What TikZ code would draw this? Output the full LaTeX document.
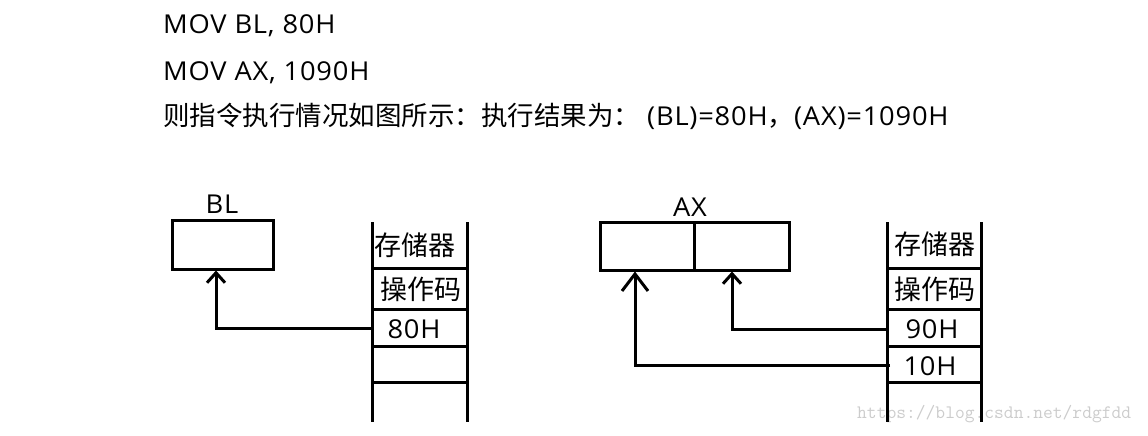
\documentclass[tikz,border=0pt]{standalone}
\usepackage{fontspec}
\setmainfont[LetterSpace=3,FakeStretch=1.05]{Open Sans}
\newfontfamily\cjk{Noto Sans CJK SC}
\usetikzlibrary{arrows.meta}
\newcommand{\toptext}{\fontsize{26}{30}\selectfont}
\newcommand{\dgtext}{\fontsize{26}{30}\selectfont}
\newcommand{\cjktop}{\cjk\fontsize{26.5}{30}\selectfont}
\newcommand{\cjktext}{\cjk\fontsize{27}{30}\selectfont}
\begin{document}
\begin{tikzpicture}[x=1pt,y=-1pt,
  every node/.style={inner sep=0pt, font=\dgtext},
  thick line/.style={line width=3pt},
  reg/.style={draw, line width=3pt, inner sep=0pt},
  txt/.style={anchor=base west, font=\toptext},
  cjklbl/.style={font=\cjktext},
  small tip/.style={line width=3pt, -{Straight Barb[length=10pt,width=18pt]}},
  big tip/.style={line width=3pt, -{Straight Barb[length=17pt,width=26pt]}},
  wmark/.style={font=\ttfamily\fontsize{19}{20}\selectfont, text=black!20, anchor=west}
]
\useasboundingbox (0,0) rectangle (1148,436);
% watermark
\node[wmark] (wm) at (857,414) {https://blog.csdn.net/rdgfdd};
% top text
\node[txt] (t1) at (163,34) {MOV BL, 80H};
\node[txt] (t2) at (163,81) {MOV AX, 1090H};
\node[txt] (t3) at (163,125) {{\cjktop 则指令执行情况如图所示：执行结果为：}\hspace{7pt}(BL)=80H{\cjktop ，}(AX)=1090H};
% ---- left diagram ----
\node (bllbl) at (222,204) {BL};
\node[reg, minimum width=101pt, minimum height=49pt] (bl) at (222.5,244.5) {};
\draw[thick line] (372,222) -- (372,422);
\draw[thick line] (467,222) -- (467,422);
\draw[thick line] (372,268) -- (467,268);
\draw[thick line] (372,309) -- (467,309);
\draw[thick line] (372,346) -- (469,346);
\draw[thick line] (372,382) -- (469,382);
\node[cjklbl] (lm1) at (415,245) {存储器};
\node[cjklbl] (lm2) at (421,289) {操作码};
\node (lm3) at (414,329) {80H};
\coordinate (s80) at (372,328);
\draw[small tip] (s80) -| ([xshift=-6.5pt]bl.south);
% ---- right diagram ----
\node (axlbl) at (690,207) {AX};
\node[reg, minimum width=94pt, minimum height=48pt] (axh) at (647,246) {};
\node[reg, minimum width=95pt, minimum height=48pt] (axl) at (741.5,246) {};
\draw[thick line] (887,222) -- (887,422);
\draw[thick line] (981,222) -- (981,422);
\draw[thick line] (887,268) -- (981,268);
\draw[thick line] (887,309) -- (981,309);
\draw[thick line] (887,346) -- (981,346);
\draw[thick line] (887,382) -- (981,382);
\node[cjklbl] (rm1) at (935,244) {存储器};
\node[cjklbl] (rm2) at (935,289) {操作码};
\node (rm3) at (932,329) {90H};
\node (rm4) at (930,366) {10H};
\coordinate (s90) at (887,329);
\coordinate (s10) at (890,365);
\draw[small tip] (s90) -| ([xshift=-9.5pt]axl.south);
\draw[big tip] (s10) -| ([xshift=-12pt]axh.south);
\end{tikzpicture}
\end{document}
